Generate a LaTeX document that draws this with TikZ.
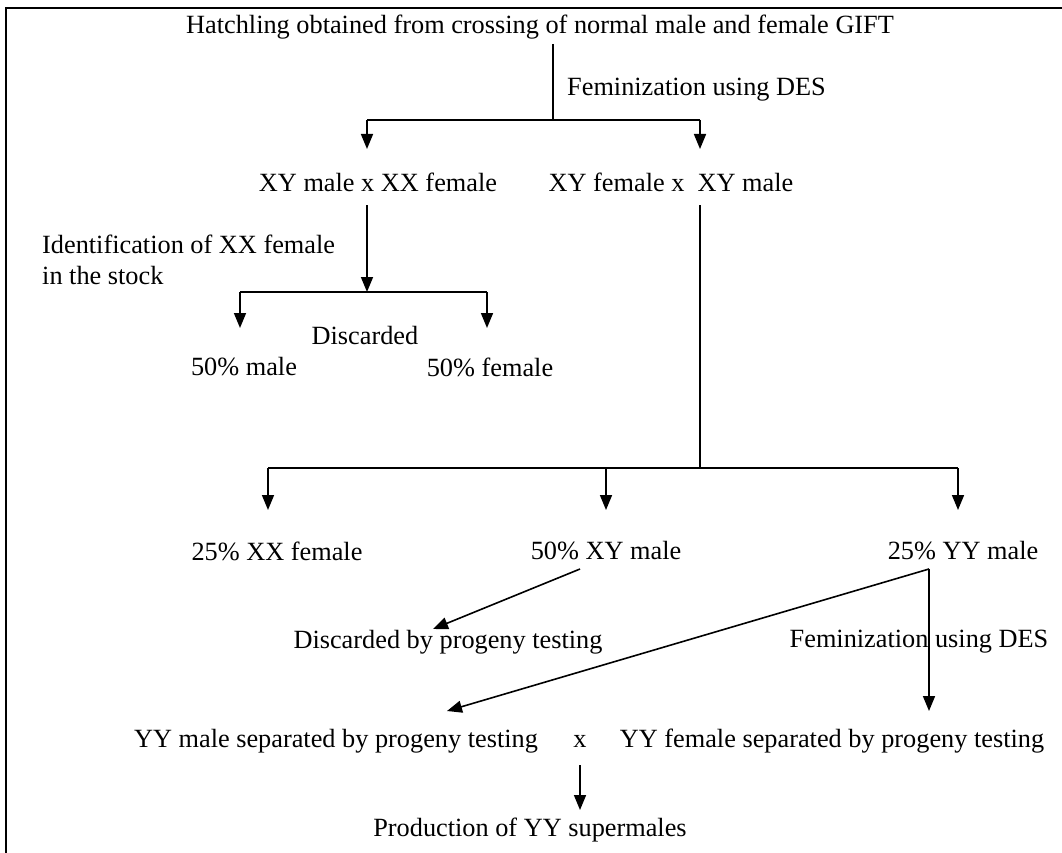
\documentclass[tikz,border=0pt]{standalone}
\usepackage{fontspec}
\setmainfont{Liberation Serif}
\usetikzlibrary{arrows.meta}
\tikzset{
  txt/.style={inner sep=0pt, font=\fontsize{26.3}{31}\selectfont},
  ln/.style={line width=1.6pt},
  arr/.style={line width=1.6pt, -{Triangle[length=15pt,width=12pt]}},
}
\begin{document}
\begin{tikzpicture}[x=1pt,y=-1pt]
\useasboundingbox (0,0) rectangle (1062,853);
\draw[ln] (6,853) -- (6,8) -- (1062,8);
% nodes
\node[txt] (top) at (540,27) {Hatchling obtained from crossing of normal male and female GIFT};
\node[txt,anchor=west] (fem1) at (567,90) {Feminization using DES};
\node[txt] (n1) at (378,182) {XY male x XX female};
\node[txt] (n2) at (671,182) {XY female x\ \ XY male};
\node[txt,anchor=west,align=left] (ident) at (42,260) {Identification of XX female\\in the stock};
\node[txt] (disc) at (365,336) {Discarded};
\node[txt] (m50) at (244,367) {50\% male};
\node[txt] (f50) at (490,367) {50\% female};
\node[txt] (p25xx) at (277,551) {25\% XX female};
\node[txt] (p50xy) at (606,551) {50\% XY male};
\node[txt] (p25yy) at (963,551) {25\% YY male};
\node[txt] (discprog) at (448,642) {Discarded by progeny testing};
\node[txt] (fem2) at (919,642) {Feminization using DES};
\node[txt] (yym) at (336,741) {YY male separated by progeny testing};
\node[txt] (xx) at (580,741) {x};
\node[txt] (yyf) at (832,741) {YY female separated by progeny testing};
\node[txt] (prod) at (530,830) {Production of YY supermales};
% junctions and free ends
\coordinate (j1t) at (553,44);
\coordinate (j1) at (553,120);
\coordinate (j1l) at (367,120);
\coordinate (j1r) at (700,120);
\coordinate (e1l) at (367,149);
\coordinate (e1r) at (700,149);
\coordinate (j2t) at (367,205);
\coordinate (j2) at (367,292);
\coordinate (j2l) at (240,292);
\coordinate (j2r) at (487,292);
\coordinate (e2l) at (240,328);
\coordinate (e2r) at (487,328);
\coordinate (j3t) at (700,205);
\coordinate (j3) at (700,468);
\coordinate (j3l) at (268,468);
\coordinate (j3m) at (606,468);
\coordinate (j3r) at (958,468);
\coordinate (e3l) at (268,510);
\coordinate (e3m) at (606,510);
\coordinate (e3r) at (958,510);
\coordinate (j4) at (929,569);
\coordinate (s5) at (580,569);
\coordinate (t5) at (433,629);
\coordinate (t6) at (447,711);
\coordinate (t7) at (929,711);
\coordinate (s8) at (580,765);
\coordinate (t8) at (580,810);
% connectors
\draw[ln] (j1t) -- (j1);
\draw[ln] (j1l) -- (j1r);
\draw[arr] (j1l) -- (e1l);
\draw[arr] (j1r) -- (e1r);
\draw[arr] (j2t) -- (j2);
\draw[ln] (j2l) -- (j2r);
\draw[arr] (j2l) -- (e2l);
\draw[arr] (j2r) -- (e2r);
\draw[ln] (j3t) -- (j3);
\draw[ln] (j3l) -- (j3r);
\draw[arr] (j3l) -- (e3l);
\draw[arr] (j3m) -- (e3m);
\draw[arr] (j3r) -- (e3r);
\draw[arr] (s5) -- (t5);
\draw[arr] (j4) -- (t6);
\draw[arr] (j4) -- (t7);
\draw[arr] (s8) -- (t8);
\end{tikzpicture}
\end{document}
